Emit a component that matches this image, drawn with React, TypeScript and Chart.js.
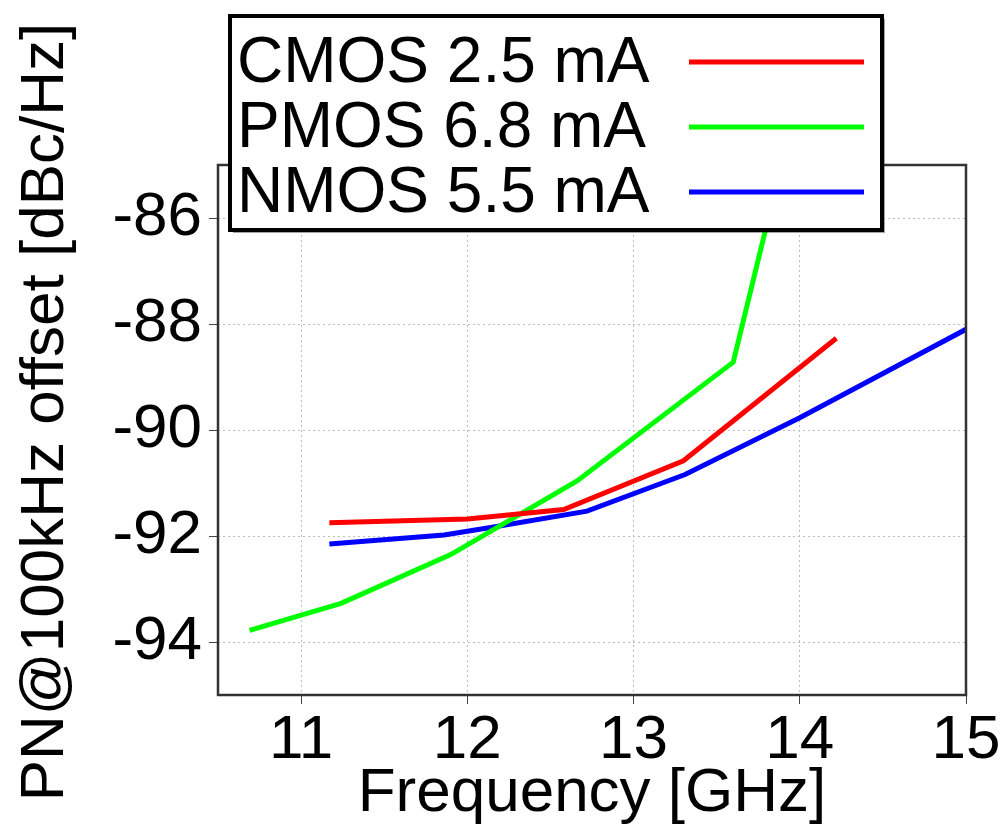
import React, { useEffect, useRef } from "react";
import { Chart, registerables } from "chart.js";

Chart.register(...registerables);

const cmosFreq = [11.17, 12.0, 12.58, 13.3, 14.22];
const cmosPN = [-91.75, -91.68, -91.5, -90.58, -88.27];
const pmosFreq = [10.69, 11.24, 11.9, 12.66, 13.6, 13.92];
const pmosPN = [-93.78, -93.27, -92.35, -90.96, -88.72, -84.6];
const nmosFreq = [11.17, 11.86, 12.14, 12.72, 13.31, 14.0, 15.0];
const nmosPN = [-92.15, -91.98, -91.84, -91.53, -90.84, -89.77, -88.1];

const xTicks = [11, 12, 13, 14, 15];
const yTicks = [-94, -92, -90, -88, -86];
const seriesNames = ["CMOS 2.5 mA", "PMOS 6.8 mA", "NMOS 5.5 mA"];
const seriesColors = ["#ff0000", "#00ff00", "#0000ff"];

const FONT = "'Liberation Sans', Arial, Helvetica, sans-serif";

const toPoints = (xs: number[], ys: number[]) => xs.map((x, i) => ({ x, y: ys[i] }));

const overlayPlugin = {
  id: "overlay",
  afterDraw(chart: any) {
    const ctx = chart.ctx as CanvasRenderingContext2D;
    const a = chart.chartArea;
    ctx.save();
    // plot frame
    ctx.strokeStyle = "#333";
    ctx.lineWidth = 2.5;
    ctx.strokeRect(a.left, a.top, a.right - a.left, a.bottom - a.top);

    // y title
    ctx.fillStyle = "#000";
    ctx.font = `62px ${FONT}`;
    ctx.textAlign = "center";
    ctx.textBaseline = "middle";
    ctx.translate(46, 412);
    ctx.rotate(-Math.PI / 2);
    ctx.fillText("PN@100kHz offset [dBc/Hz]", 0, 0);
    ctx.setTransform(1, 0, 0, 1, 0, 0);

    // legend box
    const lx = 230, ly = 16, lw = 652, lh = 214;
    ctx.fillStyle = "rgba(0,0,0,0.35)";
    ctx.fillRect(lx + 3, ly + 3, lw, lh);
    ctx.fillStyle = "#fff";
    ctx.fillRect(lx, ly, lw, lh);
    ctx.strokeStyle = "#000";
    ctx.lineWidth = 4;
    ctx.strokeRect(lx, ly, lw, lh);
    const rows = [62, 127, 192];
    ctx.font = `64px ${FONT}`;
    ctx.textAlign = "left";
    ctx.textBaseline = "middle";
    seriesNames.forEach((name, i) => {
      ctx.fillStyle = "#000";
      ctx.fillText(name, 237, rows[i] + 2);
      ctx.strokeStyle = seriesColors[i];
      ctx.lineWidth = 5;
      ctx.beginPath();
      ctx.moveTo(689, rows[i]);
      ctx.lineTo(864, rows[i]);
      ctx.stroke();
    });
    ctx.restore();
  },
};

export default function App() {
  const ref = useRef<HTMLCanvasElement>(null);
  useEffect(() => {
    document.body.style.margin = "0";
    const canvas = ref.current!;
    const mk = (label: string, xs: number[], ys: number[], color: string) => ({
      label,
      data: toPoints(xs, ys),
      borderColor: color,
      backgroundColor: color,
      borderWidth: 5,
      pointRadius: 0,
      tension: 0,
      fill: false,
    });
    const chart = new Chart(canvas, {
      type: "line",
      data: {
        datasets: [
          mk(seriesNames[0], cmosFreq, cmosPN, seriesColors[0]),
          mk(seriesNames[1], pmosFreq, pmosPN, seriesColors[1]),
          mk(seriesNames[2], nmosFreq, nmosPN, seriesColors[2]),
        ],
      },
      options: {
        animation: false,
        responsive: false,
        devicePixelRatio: 1,
        layout: { padding: { top: 165, right: 42, left: 0, bottom: 0 } },
        plugins: { legend: { display: false }, tooltip: { enabled: false } },
        scales: {
          x: {
            type: "linear",
            min: 10.5,
            max: 15,
            afterBuildTicks: (s: any) => {
              s.ticks = xTicks.map((v) => ({ value: v }));
            },
            afterFit: (s: any) => {
              s.height = 141;
            },
            ticks: {
              color: "#000",
              font: { family: FONT, size: 62 },
              padding: 0,
              maxRotation: 0,
              autoSkip: false,
            },
            grid: {
              color: "#bdbdbd",
              lineWidth: 1,
              tickColor: "#444",
              tickLength: 9,
            },
            border: { display: false, dash: [2, 3] } as any,
            title: {
              display: true,
              text: "Frequency [GHz]",
              color: "#000",
              font: { family: FONT, size: 62 },
              padding: { top: 0, bottom: 5 },
            },
          },
          y: {
            type: "linear",
            min: -95,
            max: -85,
            afterBuildTicks: (s: any) => {
              s.ticks = yTicks.map((v) => ({ value: v }));
            },
            afterFit: (s: any) => {
              s.width = 218;
            },
            ticks: {
              color: "#000",
              font: { family: FONT, size: 62 },
              padding: 7,
            },
            grid: {
              color: "#bdbdbd",
              lineWidth: 1,
              tickColor: "#444",
              tickLength: 9,
            },
            border: { display: false, dash: [2, 3] } as any,
          },
        },
      } as any,
      plugins: [overlayPlugin],
    });
    return () => chart.destroy();
  }, []);
  return (
    <div style={{ width: 1008, height: 836 }}>
      <canvas ref={ref} width={1008} height={836} style={{ display: "block", width: 1008, height: 836 }} />
    </div>
  );
}
